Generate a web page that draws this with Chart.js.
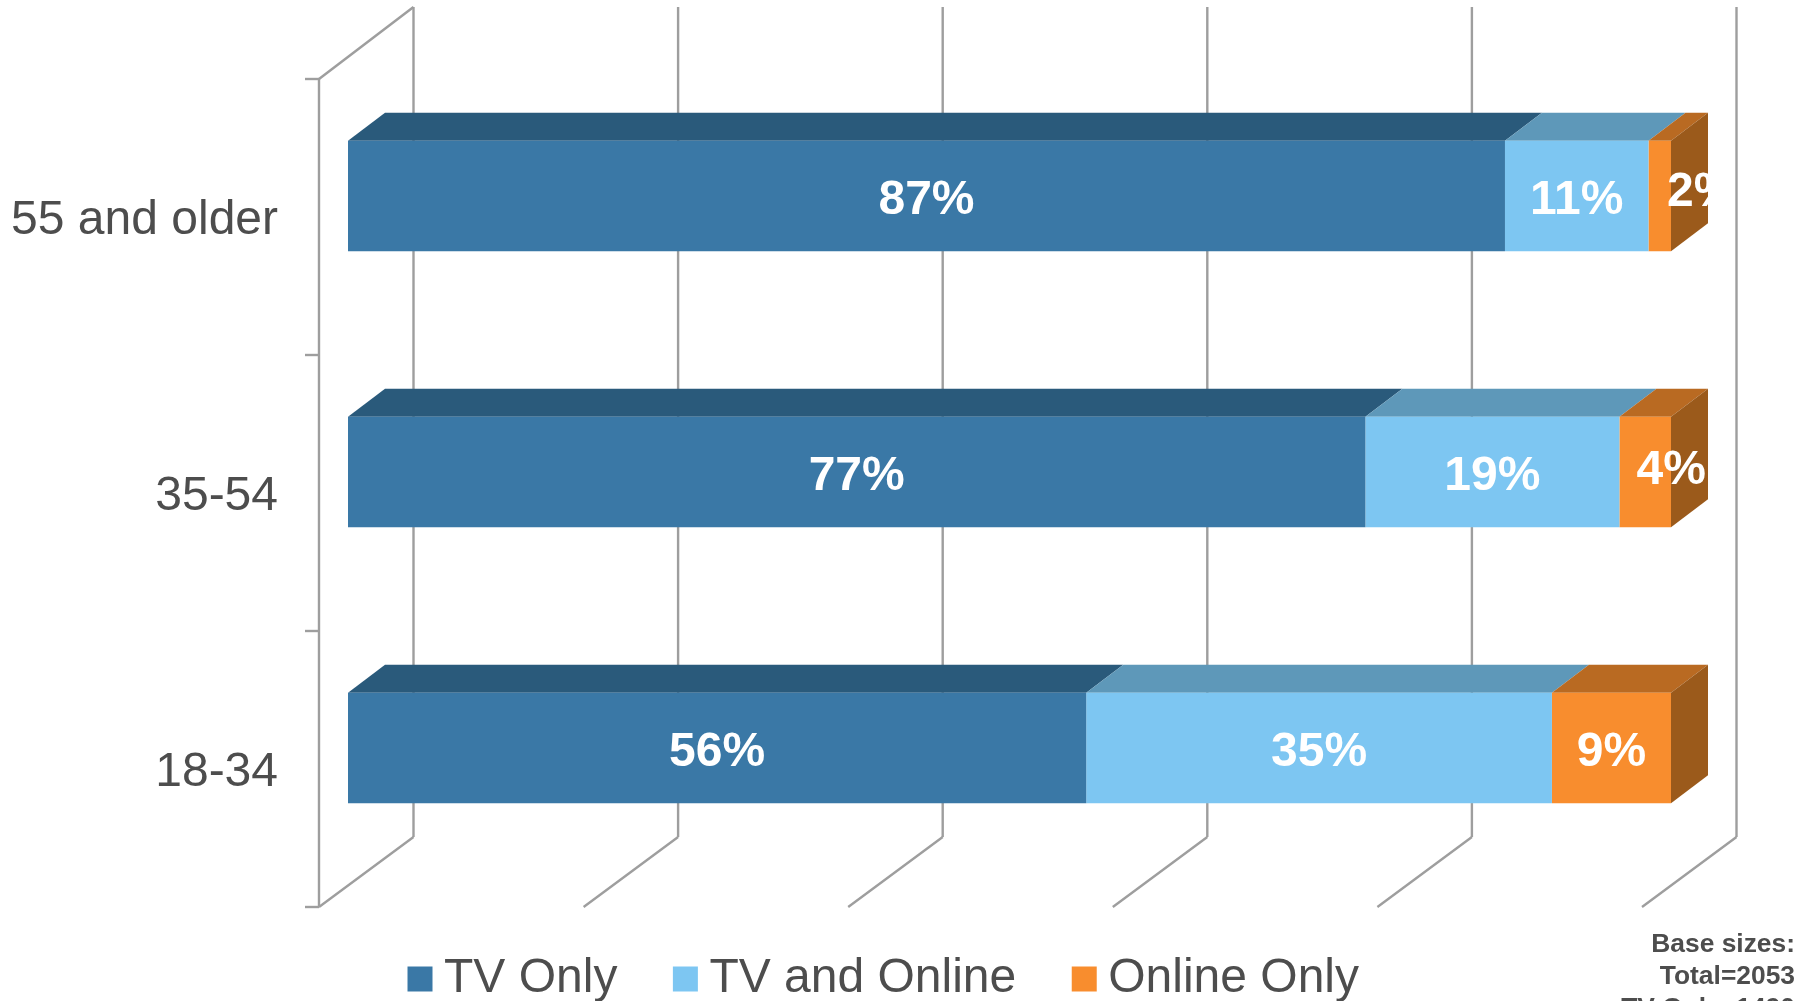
<!DOCTYPE html>
<html>
<head>
<meta charset="utf-8">
<style>html,body{margin:0;padding:0;background:#fff}canvas{display:block}</style>
<script src="https://cdn.jsdelivr.net/npm/chart.js@4"></script>
</head>
<body>
<canvas id="c" width="1804" height="1001"></canvas>
<script>
const categories = ['55 and older', '35-54', '18-34'];
const tvOnly = [87.45, 76.9, 55.8];
const tvAndOnline = [10.85, 19.2, 35.2];
const onlineOnly = [1.7, 3.9, 9.0];
const seriesNames = ['TV Only', 'TV and Online', 'Online Only'];
const axisTicks = [0, 20, 40, 60, 80, 100];
const baseSizeLines = ['Base sizes:', 'Total=2053', 'TV Only=1490'];

const FONT = '"Liberation Sans", Arial, sans-serif';
const front = ['#3a78a6', '#7dc6f2', '#f88d2e'];
const topFace = ['#2a5a7b', '#5e98b9', '#b96a22'];
const sideFace = ['#2a5a7b', '#5e98b9', '#9b5a1b'];
const GRID = '#9e9e9e';
const DX = 37, DY = 28;          // bar depth
const BACK = 65.5, FRONTX = -29; // wall offsets from the bar plane

const scene = {
  id: 'scene',
  afterLayout(chart) {
    chart.legend.left = 352;
    chart.legend.top = 887;
  },
  beforeDatasetsDraw(chart) {
    const c = chart.ctx, x = chart.scales.x;
    const wallTop = 7, wallBot = 837, frontTop = 79, frontBot = 907;
    c.save();
    c.strokeStyle = GRID; c.lineWidth = 2.4;
    const line = (a, b, d, e) => { c.beginPath(); c.moveTo(a, b); c.lineTo(d, e); c.stroke(); };
    axisTicks.forEach(v => {
      const px = x.getPixelForValue(v);
      line(px + BACK, wallTop, px + BACK, wallBot);
      line(px + BACK, wallBot, px + FRONTX, frontBot);
    });
    const x0 = x.getPixelForValue(0);
    line(x0 + FRONTX, frontTop, x0 + BACK, wallTop);
    line(x0 + FRONTX, frontTop, x0 + FRONTX, frontBot);
    const band = (frontBot - frontTop) / categories.length;
    for (let i = 0; i <= categories.length; i++) {
      const ty = frontTop + band * i;
      line(x0 + FRONTX - 14, ty, x0 + FRONTX, ty);
    }
    chart.data.datasets.forEach((ds, di) => {
      chart.getDatasetMeta(di).data.forEach(bar => {
        const l = Math.min(bar.base, bar.x), r = Math.max(bar.base, bar.x);
        const t = bar.y - bar.height / 2, b = bar.y + bar.height / 2;
        c.fillStyle = topFace[di];
        c.beginPath(); c.moveTo(l, t); c.lineTo(l + DX, t - DY); c.lineTo(r + DX, t - DY); c.lineTo(r, t); c.closePath(); c.fill();
        if (di === chart.data.datasets.length - 1) {
          c.fillStyle = sideFace[di];
          c.beginPath(); c.moveTo(r, t); c.lineTo(r + DX, t - DY); c.lineTo(r + DX, b - DY); c.lineTo(r, b); c.closePath(); c.fill();
        }
      });
    });
    c.restore();
  },
  afterDatasetsDraw(chart) {
    const c = chart.ctx, x = chart.scales.x;
    const clipRight = x.getPixelForValue(100) + DX;
    c.save();
    c.beginPath(); c.rect(0, 0, clipRight, 1001); c.clip();
    c.fillStyle = '#fff';
    c.font = 'bold 48px ' + FONT;
    c.textAlign = 'center'; c.textBaseline = 'middle';
    chart.data.datasets.forEach((ds, di) => {
      chart.getDatasetMeta(di).data.forEach((bar, i) => {
        const l = Math.min(bar.base, bar.x), r = Math.max(bar.base, bar.x);
        let tx = (l + r) / 2, ty = bar.y + 5;
        if (ds.data[i] < 2.5) { tx += 42; ty -= 8; }
        else if (ds.data[i] < 5) { tx += 26; ty -= 6; }
        c.fillText(Math.round(ds.data[i]) + '%', tx, ty);
      });
    });
    c.restore();
    c.save();
    c.fillStyle = '#4d4d4d';
    c.font = 'bold 26.4px ' + FONT;
    c.textAlign = 'right'; c.textBaseline = 'alphabetic';
    baseSizeLines.forEach((s, i) => c.fillText(s, 1795, 952 + i * 32));
    c.restore();
  }
};

const series = [tvOnly, tvAndOnline, onlineOnly];
new Chart(document.getElementById('c'), {
  type: 'bar',
  data: {
    labels: categories,
    datasets: series.map((d, i) => ({
      label: seriesNames[i], data: d, backgroundColor: front[i], borderWidth: 0,
      barPercentage: 1, categoryPercentage: 0.4, pointStyle: 'rect'
    }))
  },
  options: {
    indexAxis: 'y', responsive: false, animation: false,
    devicePixelRatio: 1,
    layout: { padding: { left: 0, right: 133, top: 58, bottom: -11 } },
    scales: {
      x: { display: false, stacked: true, min: 0, max: 100 },
      y: {
        stacked: true,
        afterFit(s) { s.width = 348; s.paddingTop = 0; s.paddingBottom = 0; },
        border: { display: false },
        grid: { display: false, drawTicks: false },
        ticks: {
          color: '#4d4d4d', font: { family: FONT, size: 48 },
          padding: 70, labelOffset: 25, autoSkip: false
        }
      }
    },
    plugins: {
      tooltip: { enabled: false },
      legend: {
        position: 'bottom', align: 'start',
        labels: {
          usePointStyle: true, boxWidth: 0.01, boxHeight: 25,
          padding: 68, color: '#4d4d4d',
          font: { family: FONT, size: 48 }
        }
      }
    }
  },
  plugins: [scene]
});
</script>
</body>
</html>
